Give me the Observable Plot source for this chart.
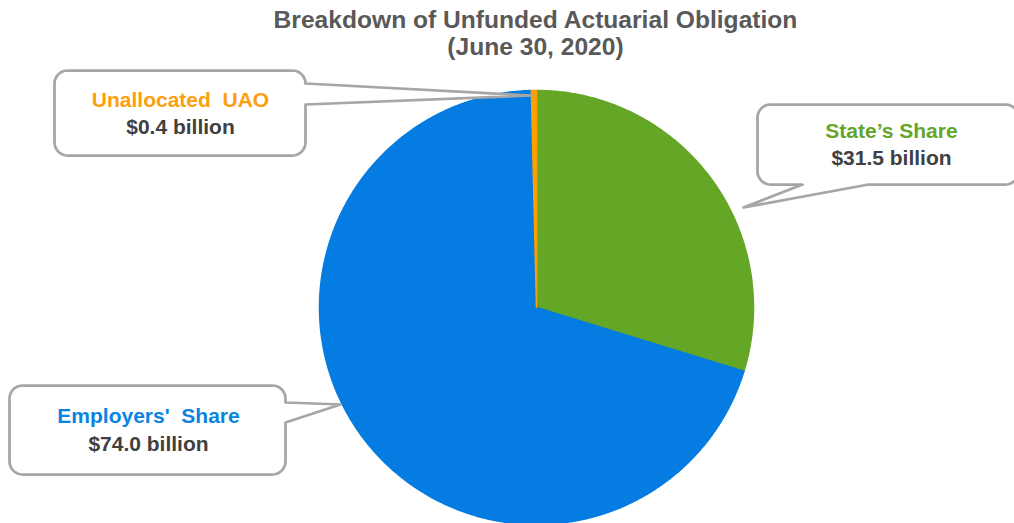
<!DOCTYPE html>
<html><head><meta charset="utf-8">
<script src="https://cdn.jsdelivr.net/npm/d3@7"></script>
<script src="https://cdn.jsdelivr.net/npm/@observablehq/plot@0.6"></script>
<style>
html,body{margin:0;padding:0;background:#fff;width:1014px;height:523px;overflow:hidden;}
#title{position:absolute;left:0;top:6px;width:1071px;text-align:center;font:bold 24.6px "Liberation Sans",Arial,sans-serif;color:#595959;line-height:27px;}
#chart{position:absolute;left:0;top:62px;}
</style></head><body>
<div id="title">Breakdown of Unfunded Actuarial Obligation<br>(June 30, 2020)</div>
<div id="chart"></div>
<script>
// ---- data ----
const categories = ["State’s Share", "Employers'\u00a0 Share", "Unallocated\u00a0 UAO"];
const values = [31.5, 74.0, 0.4];
const valueLabels = ["$31.5 billion", "$74.0 billion", "$0.4 billion"];

// ---- styles / layout ----
const sliceColors = ["#64A626", "#047CE2", "#FFA000"];
const labelColors = ["#64A52A", "#0A84E2", "#FF9E0C"];
const PIE = {cx: 536, cy: 307, r: 217};
const TOP = 62, W = 1014, H = 461;
const boxes = [
  {x0: 757, y0: 104, x1: 1018, y1: 184, side: "bottom", b: [802, 868], tip: [743, 207], tx: 891, ty: [131, 158]},
  {x0: 9, y0: 385, x1: 285, y1: 474, side: "right", b: [402, 422], tip: [340, 404], tx: 148, ty: [416, 444]},
  {x0: 54, y0: 70, x1: 305, y1: 155, side: "right", b: [83, 104], tip: [531, 95], tx: 180, ty: [100, 127]}
];

// ---- pie slices from values ----
const arcs = d3.pie().sort(null).startAngle(0).endAngle(2 * Math.PI)(values);
const slicePts = [];
arcs.forEach((a, i) => {
  const cat = categories[i];
  slicePts.push({cat, x: PIE.cx, y: PIE.cy});
  const n = Math.max(2, Math.ceil((a.endAngle - a.startAngle) / (Math.PI / 360)));
  for (let k = 0; k <= n; k++) {
    const t = a.startAngle + (a.endAngle - a.startAngle) * k / n;
    slicePts.push({cat, x: PIE.cx + PIE.r * Math.sin(t), y: PIE.cy - PIE.r * Math.cos(t)});
  }
  slicePts.push({cat, x: PIE.cx, y: PIE.cy});
});

// ---- callout bubbles ----
function bubble(b, id) {
  const r = 13, pts = [];
  const arc = (cx, cy, a0, a1) => {
    for (let i = 0; i <= 8; i++) {
      const a = a0 + (a1 - a0) * i / 8;
      pts.push([cx + r * Math.cos(a), cy + r * Math.sin(a)]);
    }
  };
  arc(b.x0 + r, b.y0 + r, Math.PI, 1.5 * Math.PI);
  arc(b.x1 - r, b.y0 + r, 1.5 * Math.PI, 2 * Math.PI);
  if (b.side === "right") pts.push([b.x1, b.b[0]], b.tip, [b.x1, b.b[1]]);
  arc(b.x1 - r, b.y1 - r, 0, 0.5 * Math.PI);
  if (b.side === "bottom") pts.push([b.b[1], b.y1], b.tip, [b.b[0], b.y1]);
  arc(b.x0 + r, b.y1 - r, 0.5 * Math.PI, Math.PI);
  pts.push(pts[0]);
  return pts.map(([x, y]) => ({id, x, y}));
}
const bubblePts = boxes.flatMap((b, i) => bubble(b, i));

const nameRows = categories.map((c, i) => ({text: c, x: boxes[i].tx, y: boxes[i].ty[0], color: labelColors[i]}));
const valueRows = valueLabels.map((v, i) => ({text: v, x: boxes[i].tx, y: boxes[i].ty[1]}));

const chart = Plot.plot({
  width: W, height: H, margin: 0,
  style: {background: "#fff", overflow: "hidden", fontFamily: "'Liberation Sans', Arial, sans-serif"},
  x: {type: "linear", domain: [0, W], range: [0, W], axis: null},
  y: {type: "linear", domain: [TOP, TOP + H], range: [0, H], axis: null},
  color: {domain: categories, range: sliceColors},
  marks: [
    Plot.line(slicePts, {x: "x", y: "y", z: "cat", fill: "cat", stroke: "cat", strokeWidth: 1.5, curve: "linear"}),
    Plot.line(bubblePts, {x: "x", y: "y", z: "id", fill: "white", stroke: "#A6A6A6", strokeWidth: 2.75, strokeLinejoin: "round", curve: "linear"}),
    Plot.text(nameRows, {x: "x", y: "y", text: "text", fill: d => d.color, fontSize: 21, fontWeight: "bold", textAnchor: "middle"}),
    Plot.text(valueRows, {x: "x", y: "y", text: "text", fill: "#404040", fontSize: 21, fontWeight: "bold", textAnchor: "middle"})
  ]
});
document.getElementById("chart").appendChild(chart);
</script>
</body></html>
